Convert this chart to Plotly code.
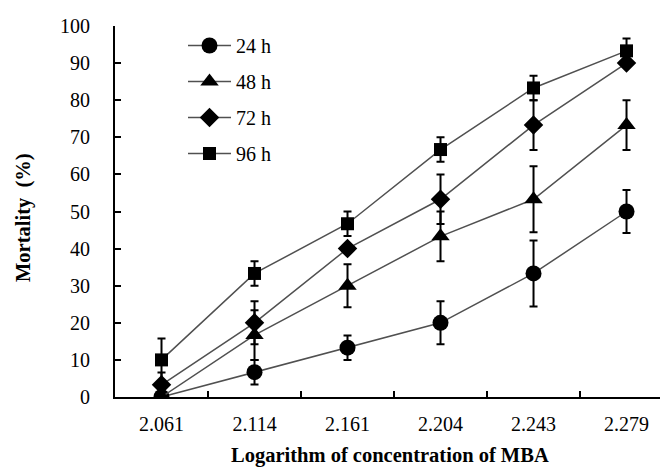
import plotly.graph_objects as go

categories = ["2.061", "2.114", "2.161", "2.204", "2.243", "2.279"]
series_names = ["24 h", "48 h", "72 h", "96 h"]
mort_24 = [0, 6.7, 13.3, 20, 33.3, 50]
err_24 = [0, 3.3, 3.3, 5.8, 8.9, 5.8]
mort_48 = [0, 16.7, 30, 43.3, 53.3, 73.3]
err_48 = [0, 6.7, 5.8, 6.7, 8.9, 6.7]
mort_72 = [3.3, 20, 40, 53.3, 73.3, 90]
err_72 = [3.3, 5.8, 0, 6.7, 6.7, 0]
mort_96 = [10, 33.3, 46.7, 66.7, 83.3, 93.3]
err_96 = [5.8, 3.3, 3.3, 3.3, 3.3, 3.3]
y_ticks = [0, 10, 20, 30, 40, 50, 60, 70, 80, 90, 100]

FONT = "Liberation Serif, Times New Roman, serif"
symbols = ["circle", "triangle-up", "diamond", "square"]
sizes = [16, 16, 15, 13]
values = [mort_24, mort_48, mort_72, mort_96]
errors = [err_24, err_48, err_72, err_96]

fig = go.Figure()
for name, sym, sz, v, e in zip(series_names, symbols, sizes, values, errors):
    fig.add_trace(go.Scatter(
        x=categories, y=v, name=name, legendgroup=name,
        mode="lines+markers",
        line=dict(color="#505050", width=1.5),
        marker=dict(symbol=sym, size=sz, color="black"),
        error_y=dict(type="data", array=e, visible=True, color="black",
                     thickness=2, width=4),
    ))

fig.update_layout(
    width=660, height=470,
    margin=dict(l=115, r=0, t=26, b=73, autoexpand=False),
    paper_bgcolor="white", plot_bgcolor="white",
    font=dict(family=FONT, size=20, color="black"),
    showlegend=True,
    legend=dict(x=(183 - 115) / 545, y=1.0, xanchor="left", yanchor="top",
                bgcolor="rgba(0,0,0,0)", tracegroupgap=7, itemwidth=43,
                font=dict(family=FONT, size=20, color="black")),
    xaxis=dict(type="category", range=[-0.5, 5.36], showline=True,
               linecolor="black", linewidth=2, ticks="inside", ticklen=6,
               tickwidth=2, tickcolor="black", tickson="boundaries",
               showgrid=False, zeroline=False, ticklabelstandoff=8,
               automargin=False),
    yaxis=dict(range=[0, 100], tickvals=y_ticks, showline=True,
               linecolor="black", linewidth=2, ticks="inside", ticklen=6,
               tickwidth=2, tickcolor="black", showgrid=False,
               zeroline=False, ticklabelstandoff=19, automargin=False),
    annotations=[
        dict(text="<b>Mortality  (%)</b>", xref="paper", yref="paper",
             x=(24 - 115) / 545, y=(397 - 218) / 371, xanchor="center",
             yanchor="middle", textangle=-90, showarrow=False,
             font=dict(family=FONT, size=20.5, color="black")),
        dict(text="<b>Logarithm of concentration of MBA</b>", xref="paper",
             yref="paper", x=(390 - 115) / 545, y=-(455 - 397) / 371,
             xanchor="center", yanchor="middle",
             showarrow=False, font=dict(family=FONT, size=20.5, color="black")),
    ],
)

fig.write_html("out.html", config={"displayModeBar": False},
               post_script="document.body.style.margin='0';document.body.style.overflow='hidden';")
